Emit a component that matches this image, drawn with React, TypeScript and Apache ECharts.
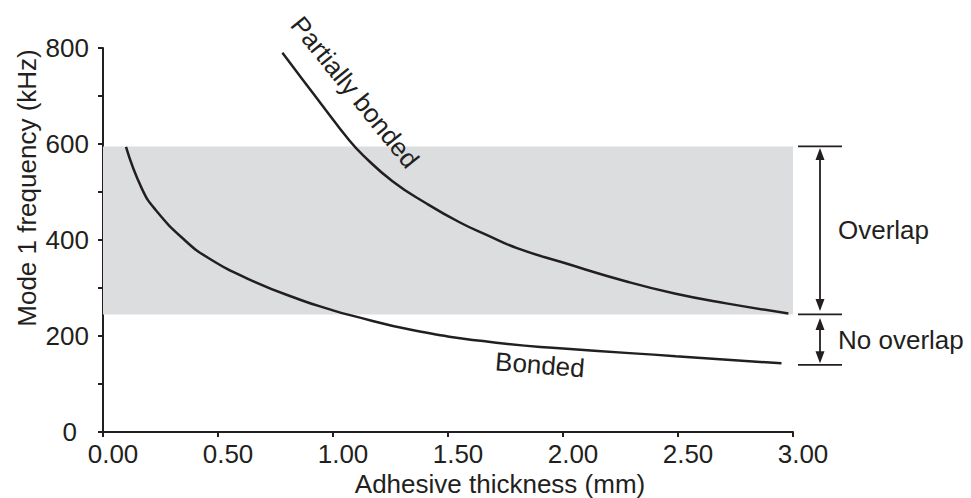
import React, { useEffect, useRef } from "react";
import * as echarts from "echarts";

const xTicks = [0, 0.5, 1.0, 1.5, 2.0, 2.5, 3.0];
const yTicks = [0, 200, 400, 600, 800];

const bondedX = [0.10, 0.17, 0.23, 0.35, 0.46, 0.64, 0.86, 0.99, 1.07, 1.35, 1.71, 2.0, 2.49, 2.95];
const bondedY = [594, 506, 462, 402, 362, 317, 275, 255, 244, 212, 186, 174, 158, 143];

const partialX = [0.78, 0.87, 0.97, 1.06, 1.13, 1.26, 1.41, 1.55, 1.67, 1.8, 2.0, 2.28, 2.49, 2.71, 2.98];
const partialY = [790, 733, 670, 614, 577, 522, 475, 437, 410, 383, 353, 313, 288, 268, 247];

const bandTop = 595;
const bandBottom = 245;
const noOverlapBottom = 140;

const xName = "Adhesive thickness (mm)";
const yName = "Mode 1 frequency (kHz)";

const INK = "#231f20";
const FONT = "Liberation Sans, Arial, sans-serif";
const FS = 26;

export default function App() {
  const ref = useRef<HTMLDivElement>(null);
  useEffect(() => {
    if (!ref.current) return;
    const chart = echarts.init(ref.current, undefined, { renderer: "svg" });
    const option: any = {
      animation: false,
      backgroundColor: "#ffffff",
      textStyle: { fontFamily: FONT, color: INK },
      grid: { left: 103, right: 178, top: 48, bottom: 66, containLabel: false },
      xAxis: {
        type: "value",
        min: 0,
        max: 3,
        interval: 0.5,
        axisLine: { show: true, onZero: false, lineStyle: { color: INK, width: 2 } },
        axisTick: { show: true, length: 5, lineStyle: { color: INK, width: 2 } },
        axisLabel: {
          fontSize: FS,
          color: INK,
          margin: 9,
          fontFamily: FONT,
          padding: [0, 0, 0, 20],
          formatter: (v: number) => (xTicks.includes(v) ? v.toFixed(2) : ""),
        },
        splitLine: { show: false },
      },
      yAxis: {
        type: "value",
        min: 0,
        max: 800,
        interval: 100,
        axisLine: { show: true, onZero: false, lineStyle: { color: INK, width: 2 } },
        axisTick: { show: true, length: 5, lineStyle: { color: INK, width: 2 } },
        axisLabel: {
          fontSize: FS,
          color: INK,
          margin: 14,
          fontFamily: FONT,
          formatter: (v: number) => (v === 0 ? "{z|0}" : yTicks.includes(v) ? String(v) : ""),
          rich: {
            z: { fontSize: FS, color: INK, fontFamily: FONT, padding: [0, 12, 0, 0] },
          },
        },
        splitLine: { show: false },
      },
      series: [
        {
          type: "line",
          name: "Bonded",
          data: bondedX.map((x, i) => [x, bondedY[i]]),
          smooth: 0.5,
          showSymbol: false,
          symbol: "none",
          lineStyle: { color: INK, width: 2.5 },
          z: 5,
          markArea: {
            silent: true,
            itemStyle: { color: "#dcdddf" },
            data: [[{ xAxis: 0, yAxis: bandBottom }, { xAxis: 3, yAxis: bandTop }]],
            z: 1,
          },
        },
        {
          type: "line",
          name: "Partially bonded",
          data: partialX.map((x, i) => [x, partialY[i]]),
          smooth: 0.5,
          showSymbol: false,
          symbol: "none",
          lineStyle: { color: INK, width: 2.5 },
          z: 5,
        },
      ],
    };
    chart.setOption(option);

    const px = (x: number, y: number) => chart.convertToPixel({ gridIndex: 0 } as any, [x, y]);
    const yTop = px(3, bandTop)[1];
    const yMid = px(3, bandBottom)[1];
    const yBot = px(3, noOverlapBottom)[1];
    const xRight = px(3, 0)[0];
    const lx1 = xRight + 5;
    const lx2 = xRight + 49;
    const ax = xRight + 27;
    const ah = 12;
    const aw = 4.5;
    const lineStyle = { stroke: INK, lineWidth: 1.8 };
    const arrow = (y1: number, y2: number) => [
      { type: "line", shape: { x1: ax, y1: y1 + 4, x2: ax, y2: y2 - 4 }, style: lineStyle },
      { type: "polygon", shape: { points: [[ax, y1 + 1.5], [ax - aw, y1 + 1.5 + ah], [ax + aw, y1 + 1.5 + ah]] }, style: { fill: INK } },
      { type: "polygon", shape: { points: [[ax, y2 - 1.5], [ax - aw, y2 - 1.5 - ah], [ax + aw, y2 - 1.5 - ah]] }, style: { fill: INK } },
    ];

    const pPartial = px(1.095, 708);
    const pBonded = px(1.9, 140);
    const font = `${FS}px ${FONT}`;

    chart.setOption({
      graphic: [
        { type: "line", shape: { x1: lx1, y1: yTop, x2: lx2, y2: yTop }, style: lineStyle },
        { type: "line", shape: { x1: lx1, y1: yMid, x2: lx2, y2: yMid }, style: lineStyle },
        { type: "line", shape: { x1: lx1, y1: yBot, x2: lx2, y2: yBot }, style: lineStyle },
        ...arrow(yTop, yMid - 2),
        ...arrow(yMid + 2, yBot),
        {
          type: "text",
          x: xRight + 45,
          y: (yTop + yMid) / 2,
          style: { text: "Overlap", font, fill: INK, textAlign: "left", textVerticalAlign: "middle" },
        },
        {
          type: "text",
          x: xRight + 45,
          y: (yMid + yBot) / 2,
          style: { text: "No overlap", font, fill: INK, textAlign: "left", textVerticalAlign: "middle" },
        },
        {
          type: "text",
          x: pPartial[0],
          y: pPartial[1],
          rotation: -0.89,
          style: { text: "Partially bonded", font, fill: INK, textAlign: "center", textVerticalAlign: "middle" },
          z: 10,
        },
        {
          type: "text",
          x: pBonded[0],
          y: pBonded[1],
          rotation: -0.08,
          style: { text: "Bonded", font, fill: INK, textAlign: "center", textVerticalAlign: "middle" },
          z: 10,
        },
        {
          type: "text",
          x: 500,
          y: 484,
          style: { text: xName, font, fill: INK, textAlign: "center", textVerticalAlign: "middle" },
        },
        {
          type: "text",
          x: 27,
          y: 188,
          rotation: Math.PI / 2,
          style: { text: yName, font, fill: INK, textAlign: "center", textVerticalAlign: "middle" },
        },
      ],
    });
    return () => chart.dispose();
  }, []);
  return <div ref={ref} style={{ width: 971, height: 498, position: "absolute", left: 0, top: 0 }} />;
}
